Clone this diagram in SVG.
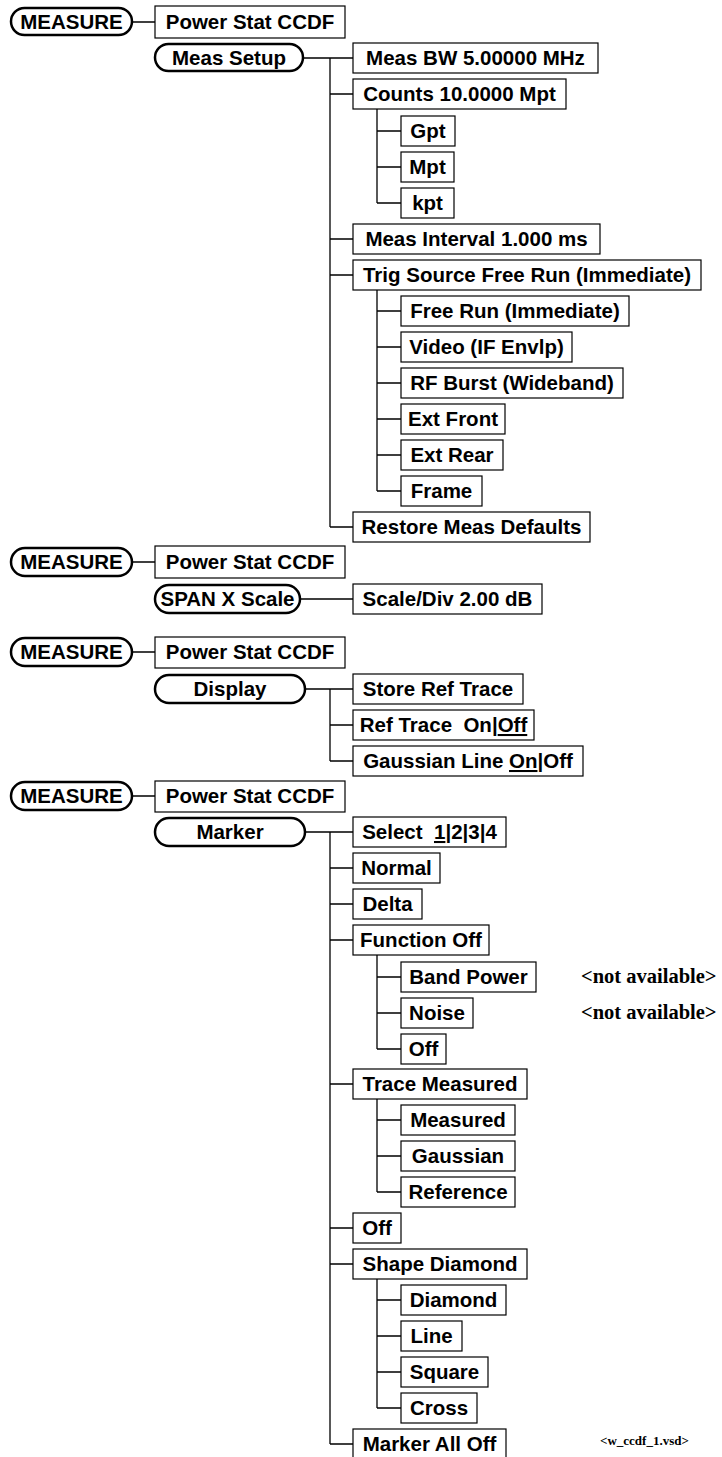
<svg xmlns="http://www.w3.org/2000/svg" width="722" height="1457" viewBox="0 0 722 1457">
<style>
.bg{fill:#fff}
.box{fill:#fff;stroke:#000;stroke-width:1.2}
.pill{fill:#fff;stroke:#000;stroke-width:2.5}
.t{font-family:"Liberation Sans",Arial,sans-serif;font-weight:bold;font-size:20.5px;fill:#000;text-anchor:middle;white-space:pre}
.c{fill:none;stroke:#000;stroke-width:1.3}
.na{font-family:"Liberation Serif","Times New Roman",serif;font-weight:bold;font-size:20.5px;fill:#000}
.fn{font-family:"Liberation Serif","Times New Roman",serif;font-weight:bold;font-size:13px;fill:#000}
.u{text-decoration:underline}
</style>
<rect class="bg" x="0" y="0" width="722" height="1457"/>
<g id="connectors">
<path class="c" d="M132 22H155 M303 58H353 M330 58V527 M330 94H353 M330 239H353 M330 275H353 M330 527H353 M377 109V203 M377 131H401 M377 167H401 M377 203H401 M377 290V491 M377 311H401 M377 347H401 M377 383H401 M377 419H401 M377 455H401 M377 491H401"/>
<path class="c" d="M132 562H155 M300 599H353"/>
<path class="c" d="M132 652H155 M305 689H353 M330 689V761 M330 725H353 M330 761H353"/>
<path class="c" d="M132 796H155 M305 832H353 M330 832V1444 M330 868H353 M330 904H353 M330 940H353 M330 1084H353 M330 1228H353 M330 1264H353 M330 1444H353 M377 955V1049 M377 977H401 M377 1013H401 M377 1049H401 M377 1099V1192 M377 1120H401 M377 1156H401 M377 1192H401 M377 1279V1408 M377 1300H401 M377 1336H401 M377 1372H401 M377 1408H401"/>
</g>
<g id="s1-measure"><rect class="pill" x="11" y="8" width="121" height="27" rx="13.5"/><text class="t" x="71.5" y="29">MEASURE</text></g>
<g id="s1-ccdf"><rect class="box" x="155" y="6" width="190" height="32"/><text class="t" x="250" y="29">Power Stat CCDF</text></g>
<g id="s1-meassetup"><rect class="pill" x="155" y="44" width="148" height="27" rx="13.5"/><text class="t" x="229" y="65">Meas Setup</text></g>
<g id="s1-measbw"><rect class="box" x="353" y="43" width="245" height="30"/><text class="t" x="475.5" y="65">Meas BW 5.00000 MHz</text></g>
<g id="s1-counts"><rect class="box" x="353" y="79" width="213" height="30"/><text class="t" x="459.5" y="101">Counts 10.0000 Mpt</text></g>
<g id="s1-gpt"><rect class="box" x="401" y="116" width="54" height="30"/><text class="t" x="428" y="138">Gpt</text></g>
<g id="s1-mpt"><rect class="box" x="401" y="152" width="53" height="30"/><text class="t" x="427.5" y="174">Mpt</text></g>
<g id="s1-kpt"><rect class="box" x="401" y="188" width="53" height="30"/><text class="t" x="427.5" y="210">kpt</text></g>
<g id="s1-interval"><rect class="box" x="353" y="224" width="247" height="30"/><text class="t" x="476.5" y="246">Meas Interval 1.000 ms</text></g>
<g id="s1-trig"><rect class="box" x="353" y="260" width="348" height="30"/><text class="t" x="527" y="282">Trig Source Free Run (Immediate)</text></g>
<g id="s1-freerun"><rect class="box" x="401" y="296" width="228" height="30"/><text class="t" x="515" y="318">Free Run (Immediate)</text></g>
<g id="s1-video"><rect class="box" x="401" y="332" width="171" height="30"/><text class="t" x="486.5" y="354">Video (IF Envlp)</text></g>
<g id="s1-rfburst"><rect class="box" x="401" y="368" width="222" height="30"/><text class="t" x="512" y="390">RF Burst (Wideband)</text></g>
<g id="s1-extfront"><rect class="box" x="401" y="404" width="104" height="30"/><text class="t" x="453" y="426">Ext Front</text></g>
<g id="s1-extrear"><rect class="box" x="401" y="440" width="102" height="30"/><text class="t" x="452" y="462">Ext Rear</text></g>
<g id="s1-frame"><rect class="box" x="401" y="476" width="81" height="30"/><text class="t" x="441.5" y="498">Frame</text></g>
<g id="s1-restore"><rect class="box" x="353" y="512" width="237" height="30"/><text class="t" x="471.5" y="534">Restore Meas Defaults</text></g>

<g id="s2-measure"><rect class="pill" x="11" y="548" width="121" height="28" rx="14"/><text class="t" x="71.5" y="569">MEASURE</text></g>
<g id="s2-ccdf"><rect class="box" x="155" y="546" width="190" height="32"/><text class="t" x="250" y="569">Power Stat CCDF</text></g>
<g id="s2-span"><rect class="pill" x="155" y="585" width="145" height="28" rx="14"/><text class="t" x="227.5" y="606">SPAN X Scale</text></g>
<g id="s2-scalediv"><rect class="box" x="353" y="584" width="189" height="30"/><text class="t" x="447.5" y="606">Scale/Div 2.00 dB</text></g>

<g id="s3-measure"><rect class="pill" x="11" y="638" width="121" height="28" rx="14"/><text class="t" x="71.5" y="659">MEASURE</text></g>
<g id="s3-ccdf"><rect class="box" x="155" y="637" width="190" height="31"/><text class="t" x="250" y="659">Power Stat CCDF</text></g>
<g id="s3-display"><rect class="pill" x="155" y="675" width="150" height="28" rx="14"/><text class="t" x="230" y="696">Display</text></g>
<g id="s3-store"><rect class="box" x="353" y="674" width="170" height="30"/><text class="t" x="438" y="696">Store Ref Trace</text></g>
<g id="s3-reftrace"><rect class="box" x="353" y="710" width="181" height="30"/><text class="t" x="443.5" y="732" xml:space="preserve">Ref Trace  On|<tspan class="u">Off</tspan></text></g>
<g id="s3-gaussline"><rect class="box" x="353" y="746" width="230" height="30"/><text class="t" x="468" y="768">Gaussian Line <tspan class="u">On</tspan>|Off</text></g>

<g id="s4-measure"><rect class="pill" x="11" y="782" width="121" height="28" rx="14"/><text class="t" x="71.5" y="803">MEASURE</text></g>
<g id="s4-ccdf"><rect class="box" x="155" y="781" width="190" height="31"/><text class="t" x="250" y="803">Power Stat CCDF</text></g>
<g id="s4-marker"><rect class="pill" x="155" y="818" width="150" height="28" rx="14"/><text class="t" x="230" y="839">Marker</text></g>
<g id="s4-select"><rect class="box" x="353" y="817" width="153" height="30"/><text class="t" x="429.5" y="839" xml:space="preserve">Select  <tspan class="u">1</tspan>|2|3|4</text></g>
<g id="s4-normal"><rect class="box" x="353" y="853" width="87" height="30"/><text class="t" x="396.5" y="875">Normal</text></g>
<g id="s4-delta"><rect class="box" x="353" y="889" width="69" height="30"/><text class="t" x="387.5" y="911">Delta</text></g>
<g id="s4-function"><rect class="box" x="353" y="925" width="136" height="30"/><text class="t" x="421" y="947">Function Off</text></g>
<g id="s4-bandpower"><rect class="box" x="401" y="962" width="135" height="30"/><text class="t" x="468.5" y="984">Band Power</text></g>
<g id="s4-noise"><rect class="box" x="401" y="998" width="72" height="30"/><text class="t" x="437" y="1020">Noise</text></g>
<g id="s4-fnoff"><rect class="box" x="401" y="1034" width="45" height="30"/><text class="t" x="423.5" y="1056">Off</text></g>
<g id="s4-trace"><rect class="box" x="353" y="1069" width="174" height="30"/><text class="t" x="440" y="1091">Trace Measured</text></g>
<g id="s4-measured"><rect class="box" x="401" y="1105" width="114" height="30"/><text class="t" x="458" y="1127">Measured</text></g>
<g id="s4-gaussian"><rect class="box" x="401" y="1141" width="114" height="30"/><text class="t" x="458" y="1163">Gaussian</text></g>
<g id="s4-reference"><rect class="box" x="401" y="1177" width="114" height="30"/><text class="t" x="458" y="1199">Reference</text></g>
<g id="s4-off"><rect class="box" x="353" y="1213" width="48" height="30"/><text class="t" x="377" y="1235">Off</text></g>
<g id="s4-shape"><rect class="box" x="353" y="1249" width="174" height="30"/><text class="t" x="440" y="1271">Shape Diamond</text></g>
<g id="s4-diamond"><rect class="box" x="401" y="1285" width="105" height="30"/><text class="t" x="453.5" y="1307">Diamond</text></g>
<g id="s4-line"><rect class="box" x="401" y="1321" width="61" height="30"/><text class="t" x="431.5" y="1343">Line</text></g>
<g id="s4-square"><rect class="box" x="401" y="1357" width="87" height="30"/><text class="t" x="444.5" y="1379">Square</text></g>
<g id="s4-cross"><rect class="box" x="401" y="1393" width="76" height="30"/><text class="t" x="439" y="1415">Cross</text></g>
<g id="s4-alloff"><rect class="box" x="353" y="1429" width="153" height="32"/><text class="t" x="429.5" y="1451">Marker All Off</text></g>

<g id="notes">
<text class="na" x="581" y="983">&lt;not available&gt;</text>
<text class="na" x="581" y="1019">&lt;not available&gt;</text>
<text class="fn" x="600" y="1445">&lt;w_ccdf_1.vsd&gt;</text>
</g>
</svg>
